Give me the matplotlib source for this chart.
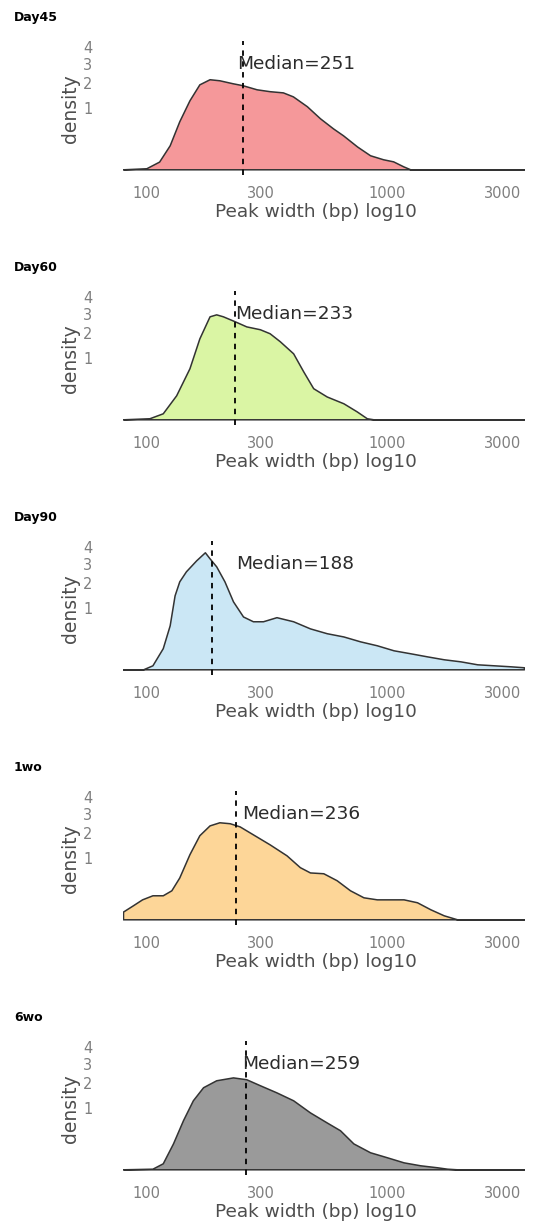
import numpy as np
import matplotlib
matplotlib.use('Agg')
import matplotlib.pyplot as plt

# sample names, medians and fill colours
samples = ['Day45', 'Day60', 'Day90', '1wo', '6wo']
medians = [251, 233, 188, 236, 259]
fills = ['#F5989A', '#DAF5A4', '#CBE7F5', '#FDD698', '#9A9A9A']

# density curves (x = peak width in bp)
day45_x = [80, 100, 113, 125, 137, 151, 166, 183, 201, 228, 251, 287, 325, 369, 406, 464,
           526, 596, 656, 750, 849, 962, 1059, 1166, 1247, 3700]
day45_y = [0, 0.0003, 0.016, 0.155, 0.62, 1.28, 1.94, 2.18, 2.13, 1.99, 1.90, 1.72, 1.64, 1.59,
           1.43, 1.07, 0.70, 0.45, 0.31, 0.14, 0.053, 0.027, 0.017, 0.0024, 0, 0]

day60_x = [80, 103, 117, 133, 151, 166, 183, 195, 208, 233, 260, 296, 325, 358, 407, 448,
           493, 561, 658, 747, 823, 877, 3700]
day60_y = [0, 0.0003, 0.0097, 0.155, 0.70, 1.76, 2.85, 2.96, 2.85, 2.58, 2.32, 2.18, 1.99,
           1.64, 1.17, 0.62, 0.26, 0.14, 0.069, 0.017, 0.0003, 0, 0]

day90_x = [80, 97, 106, 117, 125, 131, 137, 146, 161, 175, 183, 195, 211, 229, 252, 277, 305,
           347, 407, 478, 561, 658, 772, 906, 1063, 1247, 1464, 1717, 2015, 2365, 2774, 3255, 3697]
day90_y = [0, 0, 0.0043, 0.12, 0.52, 1.47, 2.08, 2.58, 3.19, 3.68, 3.31, 2.85, 2.08, 1.24, 0.75,
           0.62, 0.62, 0.73, 0.62, 0.45, 0.35, 0.29, 0.21, 0.155, 0.097, 0.069, 0.045, 0.027,
           0.017, 0.0067, 0.0043, 0.0024, 0.0011]

wo1_x = [80, 88, 96, 106, 117, 127, 137, 151, 166, 183, 201, 222, 244, 277, 325, 382, 434, 478,
         543, 617, 701, 797, 906, 1029, 1170, 1330, 1511, 1717, 1951, 2217, 3700]
wo1_y = [0.016, 0.053, 0.107, 0.155, 0.155, 0.226, 0.47, 1.14, 1.90, 2.37, 2.53, 2.48, 2.32,
         1.94, 1.51, 1.10, 0.73, 0.59, 0.57, 0.41, 0.226, 0.13, 0.107, 0.107, 0.107, 0.078,
         0.027, 0.0043, 0, 0, 0]

wo6_x = [80, 106, 117, 129, 142, 156, 172, 195, 229, 260, 296, 347, 407, 478, 561, 637, 724,
         849, 997, 1170, 1372, 1611, 1774, 1951, 3700]
wo6_y = [0, 0.0001, 0.0097, 0.18, 0.65, 1.28, 1.81, 2.13, 2.27, 2.18, 1.90, 1.59, 1.28, 0.87,
         0.59, 0.41, 0.18, 0.078, 0.039, 0.013, 0.0043, 0.0011, 0.0001, 0, 0]

curves_x = [day45_x, day60_x, day90_x, wo1_x, wo6_x]
curves_y = [day45_y, day60_y, day90_y, wo1_y, wo6_y]
label_x = [239, 233, 236, 250, 251]

xticks = [100, 300, 1000, 3000]
yticks = [1, 2, 3, 4]


def fwd(v):
    v = np.asarray(v, dtype=float)
    return np.sign(v) * np.sqrt(np.abs(v))


def inv(v):
    v = np.asarray(v, dtype=float)
    return np.sign(v) * v ** 2


W, H = 534, 1224
fig = plt.figure(figsize=(W / 100, H / 100), dpi=100)
edge = '#333333'
grey = '#7F7F7F'

for k in range(len(samples)):
    top = 41.2 + 250 * k
    ax = fig.add_axes([123 / W, 1 - (top + 134.2) / H, 401 / W, 134.2 / H])
    x = np.array(curves_x[k])
    y = np.array(curves_y[k])
    ax.fill_between(x, y, 0, facecolor=fills[k], edgecolor=edge, linewidth=1.1,
                    joinstyle='round')
    ax.axvline(medians[k], color='black', linestyle=(0, (3, 3)), linewidth=1.3)
    ax.text(label_x[k], 3, 'Median=%d' % medians[k], ha='left', va='center',
            fontsize=13.3, color='#2B2B2B')

    ax.set_xscale('log')
    ax.set_yscale('function', functions=(fwd, inv))
    ax.set_xlim(80, 3700)
    ax.set_ylim(-0.01, 4.41)
    ax.set_xticks(xticks)
    ax.set_xticklabels([str(t) for t in xticks])
    ax.xaxis.set_minor_locator(matplotlib.ticker.NullLocator())
    ax.set_yticks(yticks)
    ax.set_yticklabels([str(t) for t in yticks])
    ax.yaxis.set_minor_locator(matplotlib.ticker.NullLocator())
    ax.tick_params(axis='x', length=0, pad=7.6, labelsize=10.5, labelcolor=grey)
    ax.tick_params(axis='y', length=0, pad=22, labelsize=10.5, labelcolor=grey)
    for s in ax.spines.values():
        s.set_visible(False)
    ax.patch.set_alpha(0)

    ax.set_xlabel('Peak width (bp) log10', fontsize=13.3, color='#4D4D4D')
    ax.xaxis.set_label_coords(0.481, -0.273)
    ax.xaxis.label.set_va('center')
    ax.set_ylabel('density', fontsize=13.5, color='#4D4D4D')
    ax.yaxis.set_label_coords(-0.132, 0.5)
    ax.yaxis.label.set_va('center')

    fig.text(14 / W, 1 - (17.3 + 250 * k) / H, samples[k], fontsize=9, fontweight='bold',
             ha='left', va='center', color='black')

fig.savefig('out.png', dpi=100)
